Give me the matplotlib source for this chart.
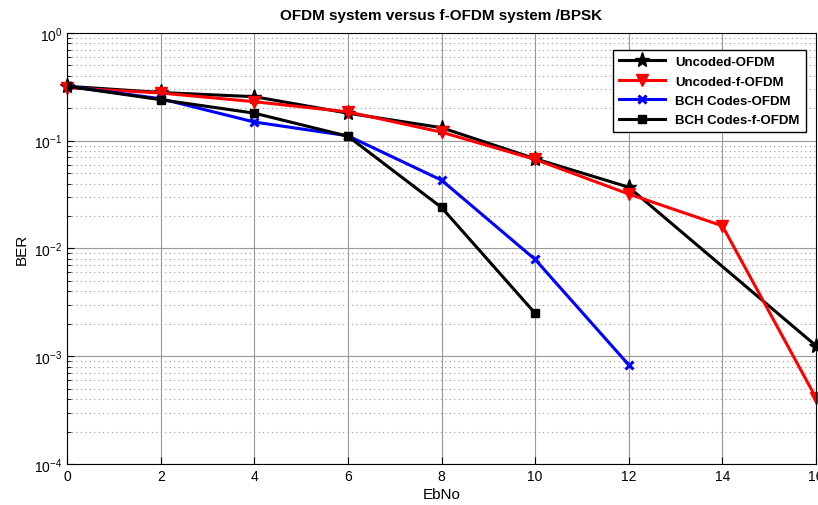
import numpy as np
import matplotlib.pyplot as plt

plt.rcParams['font.family'] = ['Liberation Sans', 'DejaVu Sans']

# data
ebno = [0, 2, 4, 6, 8, 10, 12, 14, 16]
uncoded_ofdm = [0.32, 0.28, 0.256, 0.18, 0.132, 0.068, 0.037, 0.0068, 0.00125]
uncoded_fofdm = [0.31, 0.277, 0.23, 0.185, 0.12, 0.067, 0.032, 0.0162, 0.00041]
ebno_bch = [0, 2, 4, 6, 8, 10, 12]
bch_ofdm = [0.32, 0.245, 0.149, 0.111, 0.043, 0.0079, 0.00083]
ebno_bchf = [0, 2, 4, 6, 8, 10]
bch_fofdm = [0.32, 0.24, 0.18, 0.11, 0.024, 0.0025]

fig = plt.figure(figsize=(8.18, 5.06), dpi=100)
ax = fig.add_axes([0.082, 0.081, 0.9156, 0.852])

# the uncoded OFDM curve has no marker at 14
ax.plot(ebno, uncoded_ofdm, color='black', lw=2.2, marker='*', markersize=11,
        markevery=[0, 1, 2, 3, 4, 5, 6, 8], label='Uncoded-OFDM', clip_on=False)
ax.plot(ebno, uncoded_fofdm, color='red', lw=2.2, marker='v', markersize=8,
        label='Uncoded-f-OFDM', clip_on=False)
ax.plot(ebno_bch, bch_ofdm, color='blue', lw=2.2, marker='x', markersize=6, mew=2.2,
        label='BCH Codes-OFDM')
ax.plot(ebno_bchf, bch_fofdm, color='black', lw=2.2, marker='s', markersize=5.5,
        mfc='black', mec='black', label='BCH Codes-f-OFDM')

ax.set_yscale('log')
ax.set_xlim(0, 16)
ax.set_ylim(1e-4, 1)
ax.set_xticks(range(0, 17, 2))
ax.grid(True, which='major', color='#999999', lw=0.8, ls='-')
ax.grid(True, which='minor', color='#999999', lw=0.8, ls=(0, (1, 3)))
ax.tick_params(which='both', direction='in', labelsize=10)
ax.tick_params(which='major', length=5)
ax.tick_params(which='minor', length=3)

ax.set_title('OFDM system versus f-OFDM system /BPSK', fontsize=11, fontweight='bold', pad=10)
ax.set_xlabel('EbNo', fontsize=11, labelpad=3)
ax.set_ylabel('BER', fontsize=11, labelpad=4)

leg = ax.legend(loc='upper right', fancybox=False, edgecolor='black',
                framealpha=1, handlelength=3.5, borderpad=0.45, labelspacing=0.55,
                prop={'weight': 'bold', 'size': 9.5}, bbox_to_anchor=(0.995, 0.976))
leg.get_frame().set_linewidth(1.0)

fig.savefig('out.png', dpi=100)
